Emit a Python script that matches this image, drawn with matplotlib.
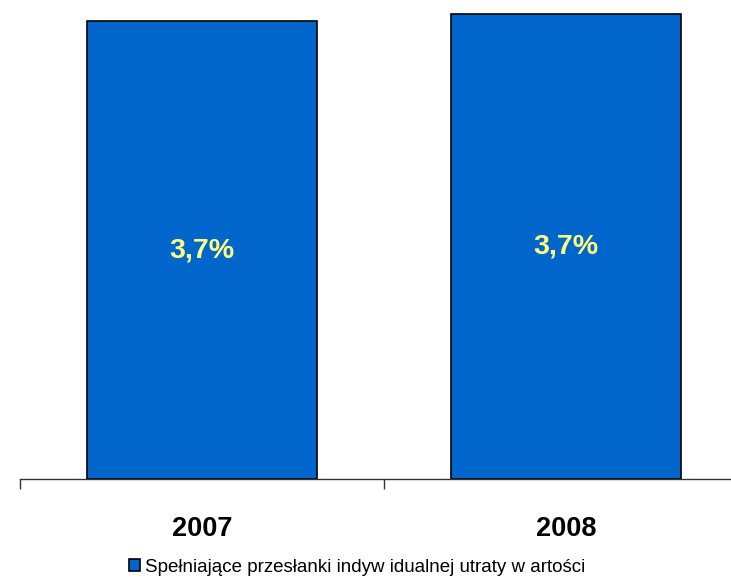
import matplotlib
matplotlib.use("Agg")
import matplotlib.pyplot as plt
from matplotlib.transforms import blended_transform_factory

# Data
years = ["2007", "2008"]
values = [3.66, 3.72]
value_labels = ["3,7%", "3,7%"]
series_name = "Spełniające przesłanki indyw idualnej utraty w artości"

plt.rcParams["font.family"] = ["Liberation Sans", "DejaVu Sans"]

W, H = 731, 581
fig = plt.figure(figsize=(W / 100, H / 100), dpi=100)
ax = fig.add_axes([20 / W, (H - 479) / H, 728 / W, 479 / H])

x = [i + 0.5 for i in range(len(years))]
bars = ax.bar(
    x,
    values,
    width=0.63,
    color="#0066CC",
    edgecolor="black",
    linewidth=1.2,
    label=series_name
)

ax.set_xlim(0, len(years))
ax.set_ylim(0, 3.83)

for s in ["top", "right", "left"]:
    ax.spines[s].set_visible(False)
ax.spines["bottom"].set_color("#333333")
ax.spines["bottom"].set_linewidth(1.0)

ax.set_yticks([])
ax.set_xticks(range(len(years) + 1))
ax.set_xticklabels([])
ax.tick_params(axis="x", length=7.2, width=1.0, color="#333333", direction="out")

# value labels inside bars
for xi, v, lab in zip(x, values, value_labels):
    ax.text(xi, v / 2, lab, ha="center", va="center",
            fontsize=20.5, fontweight="bold", color="#FFFF80")

# category labels
trans = blended_transform_factory(ax.transData, ax.transAxes)
for xi, yr in zip(x, years):
    ax.text(xi, (479 - 536) / 479, yr, transform=trans, ha="center",
            va="baseline", fontsize=19.5, fontweight="bold", color="black")

# legend
fig.legend(
    handles=[bars],
    labels=[series_name],
    loc="center",
    bbox_to_anchor=(357 / W, (H - 567) / H),
    frameon=False,
    prop={"size": 13.5},
    handlelength=0.62,
    handleheight=0.62,
    handletextpad=0.25,
    borderpad=0,
)

fig.savefig("out.png", dpi=100)
